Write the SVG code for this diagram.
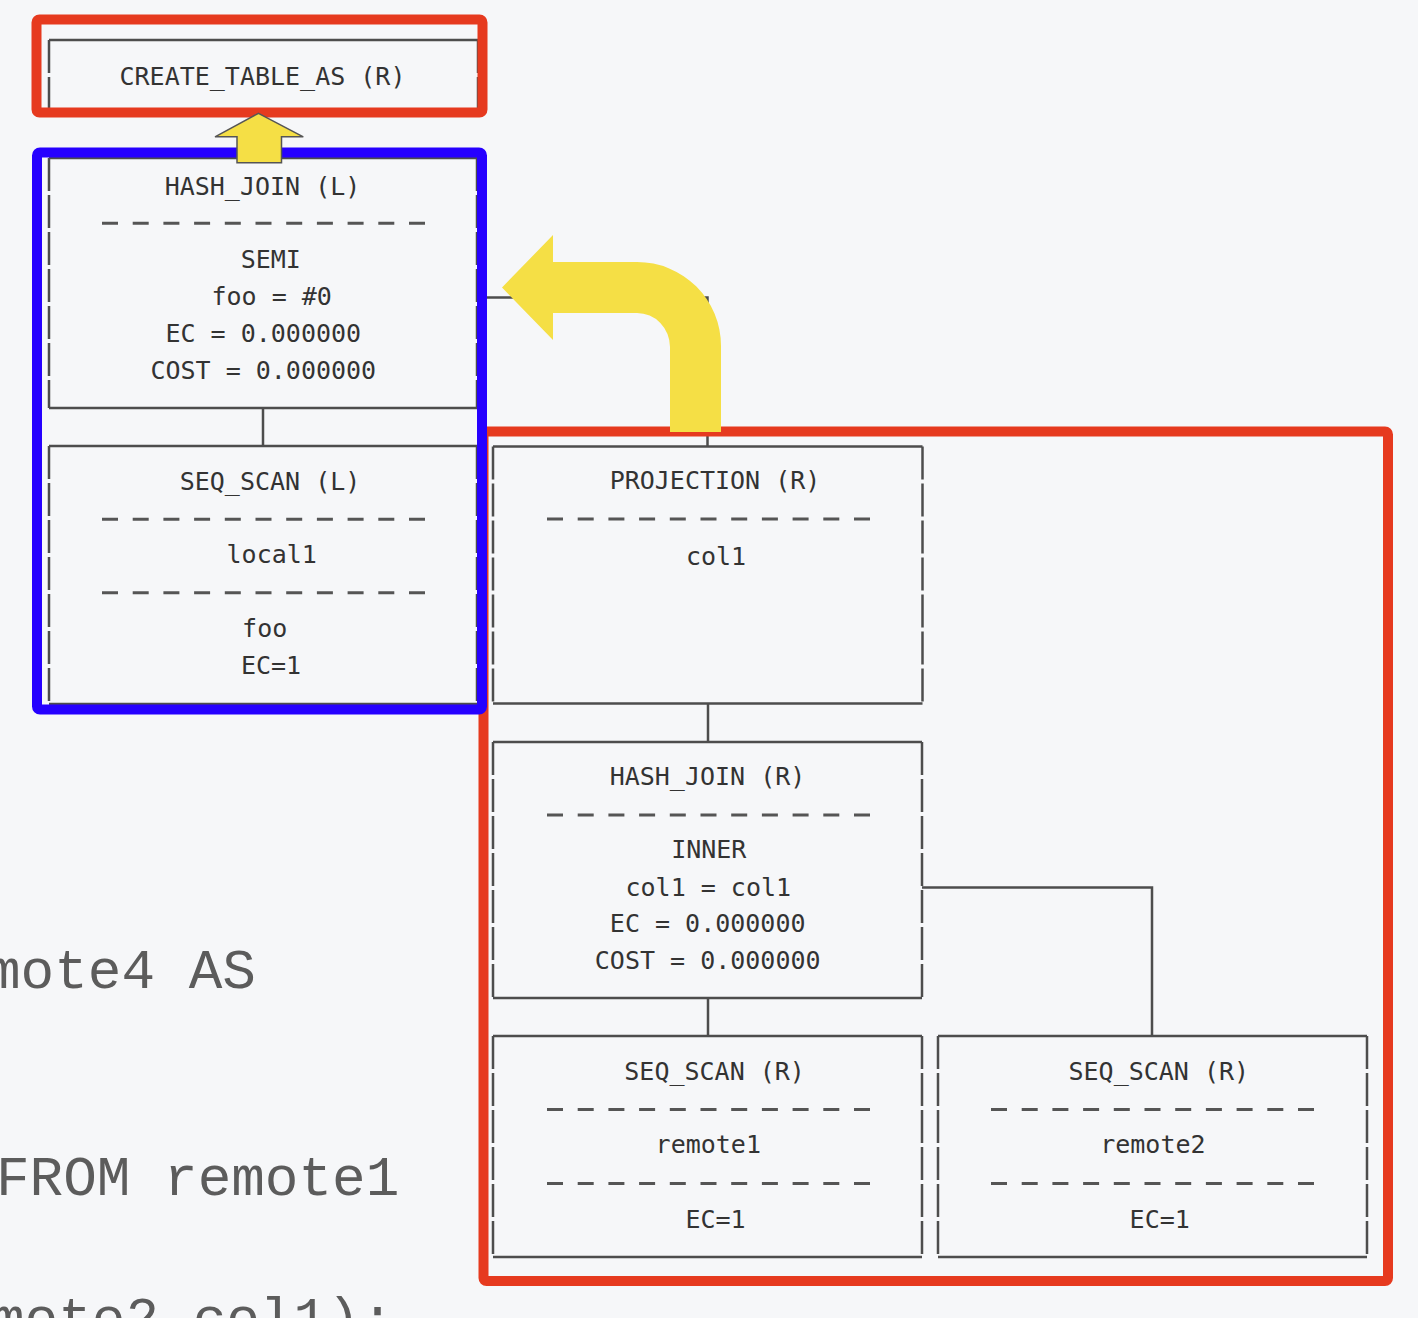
<svg xmlns="http://www.w3.org/2000/svg" width="1418" height="1318" viewBox="0 0 1418 1318">
<style>
.hb{stroke:#4d4d4d;stroke-width:2.5;fill:none}
.vb{stroke:#4d4d4d;stroke-width:2.5;fill:none;stroke-dasharray:33 4}
.sep{stroke:#555;stroke-width:3;fill:none;stroke-dasharray:16 14.7}
.cn{stroke:#4d4d4d;stroke-width:2.5;fill:none}
.t{font-family:"DejaVu Sans Mono","Liberation Mono",monospace;font-size:25px;fill:#333;text-anchor:middle}
.code{font-family:"Liberation Mono","Courier New",monospace;font-size:56px;fill:#5c5c5c}
.red{fill:none;stroke:#e63a1f;stroke-width:10}
.blue{fill:none;stroke:#2600ff;stroke-width:10}
.yel{fill:#f5df45}
</style>
<rect width="1418" height="1318" fill="#f6f7f9"/>
<g id="code-bg">
<text class="code" x="-13" y="988">mote4 AS</text>
<text class="code" x="-4" y="1195">FROM remote1</text>
<text class="code" x="-9" y="1336">mote2.col1);</text>
</g>
<g id="connectors">
<path class="cn" d="M263 110 V158"/>
<path class="cn" d="M263 408 V446"/>
<path class="cn" d="M478 297.5 H707.5 V446.5"/>
<path class="cn" d="M708 703.5 V742"/>
<path class="cn" d="M708 998 V1036"/>
<path class="cn" d="M922 887.5 H1152 V1036"/>
</g>
<g id="n-create">
<path class="hb" d="M49 40 H478 M49 110 H478"/>
<path class="vb" d="M49 40 V110 M478 40 V110"/>
<text class="t" x="262.5" y="85">CREATE_TABLE_AS (R)</text>
</g>
<g id="n-hashjoin-l">
<path class="hb" d="M49 158 H477 M49 408 H477"/>
<path class="vb" d="M49 158 V408 M477 158 V408"/>
<text class="t" x="262.5" y="195">HASH_JOIN (L)</text>
<path class="sep" d="M102 223.3 H425"/>
<text class="t" x="270.8" y="268.3">SEMI</text>
<text class="t" x="271.7" y="305">foo = #0</text>
<text class="t" x="263.3" y="341.7">EC = 0.000000</text>
<text class="t" x="263.3" y="379.3">COST = 0.000000</text>
</g>
<g id="n-seqscan-l">
<path class="hb" d="M49 446 H477 M49 704 H477"/>
<path class="vb" d="M49 446 V704 M477 446 V704"/>
<text class="t" x="270" y="490">SEQ_SCAN (L)</text>
<path class="sep" d="M102 519.3 H425"/>
<text class="t" x="271.7" y="563.3">local1</text>
<path class="sep" d="M102 592.7 H425"/>
<text class="t" x="264.7" y="637.3">foo</text>
<text class="t" x="271" y="674">EC=1</text>
</g>
<g id="n-projection">
<path class="hb" d="M493 446.5 H922.5 M493 703.5 H922.5"/>
<path class="vb" d="M493 446.5 V703.5 M922.5 446.5 V703.5"/>
<text class="t" x="715" y="489">PROJECTION (R)</text>
<path class="sep" d="M547 519 H870"/>
<text class="t" x="716" y="565">col1</text>
</g>
<g id="n-hashjoin-r">
<path class="hb" d="M493 742 H922 M493 998 H922"/>
<path class="vb" d="M493 742 V998 M922 742 V998"/>
<text class="t" x="707.5" y="785">HASH_JOIN (R)</text>
<path class="sep" d="M547 815 H870"/>
<text class="t" x="708.8" y="858.3">INNER</text>
<text class="t" x="708.3" y="895.7">col1 = col1</text>
<text class="t" x="707.7" y="932.3">EC = 0.000000</text>
<text class="t" x="707.7" y="969.3">COST = 0.000000</text>
</g>
<g id="n-seqscan-r1">
<path class="hb" d="M493 1036 H922 M493 1257 H922"/>
<path class="vb" d="M493 1036 V1257 M922 1036 V1257"/>
<text class="t" x="714.6" y="1080">SEQ_SCAN (R)</text>
<path class="sep" d="M547 1109.5 H870"/>
<text class="t" x="708.3" y="1153.3">remote1</text>
<path class="sep" d="M547 1183.5 H870"/>
<text class="t" x="715.5" y="1228.3">EC=1</text>
</g>
<g id="n-seqscan-r2">
<path class="hb" d="M938 1036 H1367 M938 1257 H1367"/>
<path class="vb" d="M938 1036 V1257 M1367 1036 V1257"/>
<text class="t" x="1158.8" y="1080">SEQ_SCAN (R)</text>
<path class="sep" d="M991 1109.5 H1314"/>
<text class="t" x="1152.9" y="1153.3">remote2</text>
<path class="sep" d="M991 1183.5 H1314"/>
<text class="t" x="1159.7" y="1228.3">EC=1</text>
</g>
<g id="highlights">
<rect class="red" x="36.5" y="19.5" width="446" height="93" rx="3"/>
<rect class="red" x="483.5" y="431.5" width="904.5" height="849.5" rx="3"/>
<rect class="blue" x="37" y="152.5" width="445" height="557" rx="3"/>
</g>
<g id="arrows">
<path class="yel" stroke="#555" stroke-width="1.5" stroke-linejoin="miter" d="M258.5 113.3 L303.3 136.8 H281.5 V162.7 H237 V136.8 H215 Z"/>
<path class="yel" d="M670 432 V347 A33 34 0 0 0 637 313 H553 V340 L502 287.5 L553 235 V262 H637 A84 84 0 0 1 721 346 V432 Z"/>
</g>
</svg>
